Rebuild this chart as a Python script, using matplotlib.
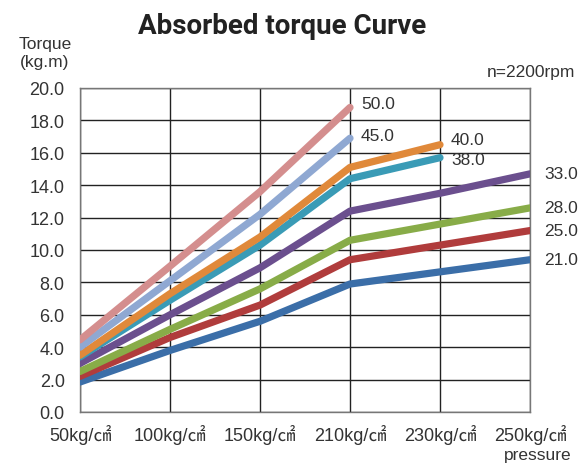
import numpy as np
import matplotlib
matplotlib.use("Agg")
import matplotlib.pyplot as plt

categories = ["50kg/㎠", "100kg/㎠", "150kg/㎠", "210kg/㎠", "230kg/㎠", "250kg/㎠"]
nan = np.nan
s21 = [1.85, 3.8, 5.6, 7.9, 8.65, 9.4]
s25 = [2.2, 4.6, 6.6, 9.4, 10.3, 11.2]
s28 = [2.5, 5.1, 7.6, 10.6, 11.6, 12.6]
s33 = [3.0, 6.0, 8.9, 12.4, 13.5, 14.7]
s38 = [3.4, 6.9, 10.3, 14.4, 15.7, nan]
s40 = [3.5, 7.3, 10.8, 15.1, 16.5, nan]
s45 = [4.0, 8.1, 12.2, 16.9, nan, nan]
s50 = [4.45, 9.0, 13.6, 18.8, nan, nan]
series_labels = ["21.0", "25.0", "28.0", "33.0", "38.0", "40.0", "45.0", "50.0"]
series_values = [s21, s25, s28, s33, s38, s40, s45, s50]
colors = ["#3b6ea8", "#b03c3c", "#88ac48", "#6b4f8e", "#3a9bb6", "#e0893a", "#8fa8d2", "#d48e8e"]
label_offsets = [(10, 0), (10, 0), (10, 0), (10, 0), (8, -1), (8, 4), (8, 2), (8, 3)]

fam = ["Liberation Sans", "Noto Sans CJK JP", "DejaVu Sans"]
plt.rcParams['font.family'] = fam

fig = plt.figure(figsize=(5.79, 4.64), dpi=100)
ax = fig.add_axes([80/579, (464-413)/464, 450/579, 324/464])

x = np.arange(len(categories))
for lab, vals, c, off in zip(series_labels, series_values, colors, label_offsets):
    v = np.array(vals, dtype=float)
    ax.plot(x, v, color=c, lw=5.2, solid_capstyle='round', solid_joinstyle='round', zorder=3)
    idx = np.where(~np.isnan(v))[0][-1]
    ax.annotate(lab, (x[idx], v[idx]), xytext=off, textcoords='offset points',
                fontsize=12.5, color="#333333", va='center', ha='left', annotation_clip=False)

ax.set_xlim(0, 5)
ax.set_ylim(0, 20)
yt = np.arange(0, 20.1, 2)
ax.set_yticks(yt)
ax.set_yticklabels([f"{t:.1f}" for t in yt])
ax.set_xticks(x)
ax.set_xticklabels(categories)
ax.tick_params(axis='both', length=0, labelsize=13, colors="#333333")
ax.tick_params(axis='y', pad=11)
ax.tick_params(axis='x', pad=9)
ax.grid(True, color="#222222", lw=1.0, zorder=1)
for sp in ax.spines.values():
    sp.set_color("#777777")
    sp.set_linewidth(1.0)

fig.text(282/579, 1 - 26/464, "Absorbed torque Curve", ha='center', va='center',
         fontsize=20, fontweight='bold', fontstretch='condensed',
         family=["Roboto", "DejaVu Sans"], color="#222222")
fig.text(45/579, 1 - 54/464, "Torque\n(kg.m)", ha='center', va='center', fontsize=12.5,
         color="#333333", linespacing=1.25)
fig.text(575/579, 1 - 73/464, "n=2200rpm", ha='right', va='center', fontsize=12.5, color="#333333")
fig.text(572/579, 1 - 456/464, "pressure", ha='right', va='center', fontsize=12.5, color="#333333")

fig.savefig("out.png", dpi=100)
